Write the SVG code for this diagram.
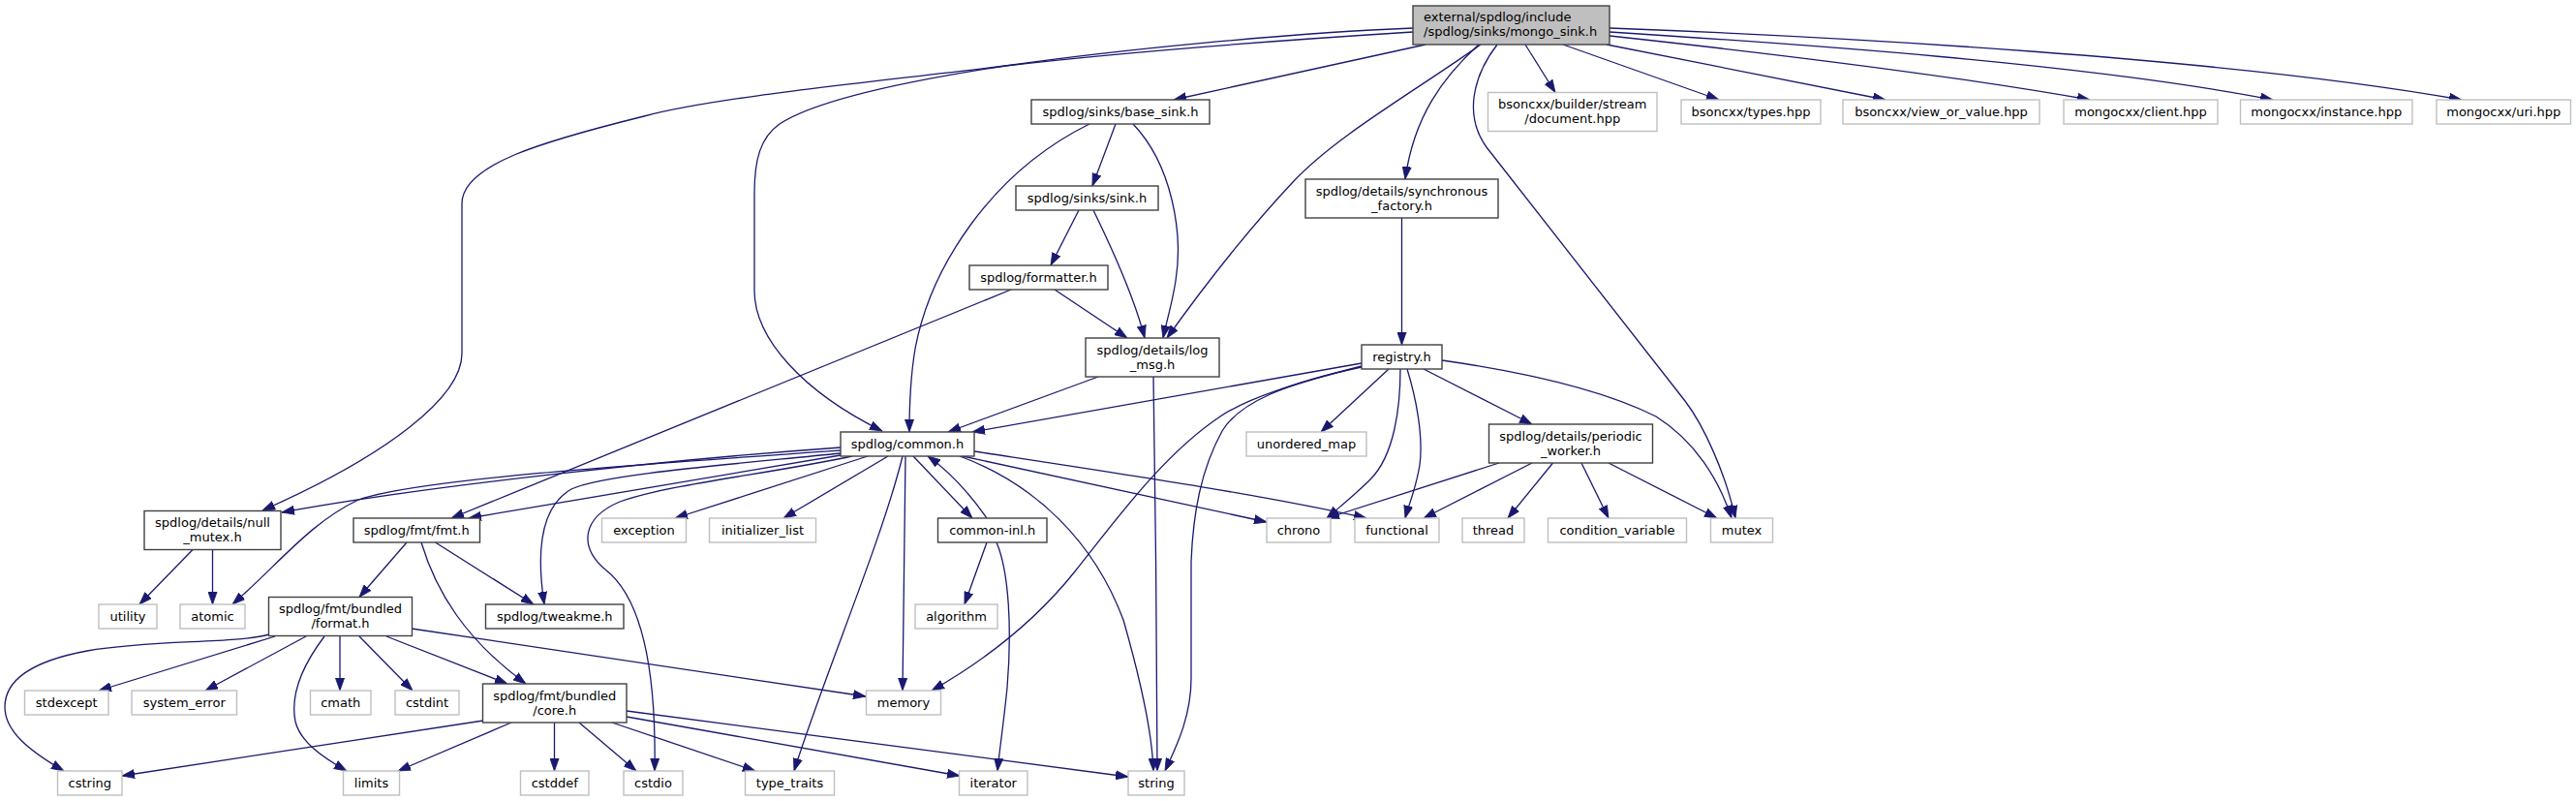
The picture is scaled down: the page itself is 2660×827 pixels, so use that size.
<svg xmlns="http://www.w3.org/2000/svg" width="2660" height="827" viewBox="0 0 2660 827">
<defs>
<style>
rect{stroke-width:1.4}
.n rect{fill:#fff;stroke:#404040}
.x rect{fill:#fff;stroke:#bfbfbf}
.m rect{fill:#bfbfbf;stroke:#404040}
text{font-family:"DejaVu Sans","Liberation Sans",sans-serif;font-size:13px;fill:#000;text-anchor:middle}
.m text{text-anchor:start}
#edges path{fill:none;stroke:#191970;stroke-width:1.3;marker-end:url(#a)}
</style>
<marker id="a" markerUnits="userSpaceOnUse" markerWidth="13" markerHeight="10" viewBox="0 0 13 10" refX="13" refY="5" orient="auto"><path d="M0,0.4 L13,5 L0,9.6 z" fill="#191970" stroke="#191970" stroke-width="0.8"/></marker>
</defs>
<rect width="2660" height="827" fill="#fff"/>
<g id="edges">
<path d="M1459,29 C1330,34 1150,52 1038,68 C920,86 840,105 805,128 C785,142 779,165 779,200 L779,300 C779,350 830,405 911,445"/>
<path d="M1459,33 C1300,43 1150,55 1038,68 C900,85 740,100 665,120 C560,146 477,170 477,210 L477,365 C477,410 400,470 271,527"/>
<path d="M1472,46 L1212,103"/>
<path d="M1529,46 C1460,95 1380,140 1335,188 C1290,236 1240,300 1205,349"/>
<path d="M1527,46 C1490,80 1460,120 1451,185"/>
<path d="M1546,46 C1520,80 1512,120 1535,152 L1740,414 C1760,440 1782,490 1792,535"/>
<path d="M1575,46 L1606,95.5"/>
<path d="M1614,46 L1775,103"/>
<path d="M1659,46 L1947,103"/>
<path d="M1662,37 C1800,52 2000,75 2158,103"/>
<path d="M1662,33 C1850,45 2150,65 2347,103"/>
<path d="M1662,29 C1900,38 2300,60 2542,103"/>
<path d="M1125,128 C1020,180 960,280 945,360 C940,390 939,420 939,446"/>
<path d="M1152,128 L1128,192"/>
<path d="M1170,128 C1210,170 1222,240 1214,290 C1210,315 1205,330 1201,349"/>
<path d="M1114,217 L1085,274"/>
<path d="M1129,217 C1150,260 1172,310 1182,349"/>
<path d="M1089,299 L1164,349"/>
<path d="M1044,299 L466,535"/>
<path d="M1134,389 L979,446"/>
<path d="M1191,389 C1193,500 1195,700 1195,796"/>
<path d="M868,462 C700,474 450,500 291,529"/>
<path d="M868,465 C650,480 430,495 370,516 C320,540 290,580 240,624"/>
<path d="M868,468 C750,480 620,490 590,505 C560,522 553,565 562,624"/>
<path d="M868,470 L484,535"/>
<path d="M880,471 C790,490 690,500 640,518 C600,535 598,565 625,588 C660,615 678,680 676,796"/>
<path d="M896,471 L697,535"/>
<path d="M917,471 L809,535"/>
<path d="M932,471 C910,560 850,700 820,796"/>
<path d="M935,471 L932,713"/>
<path d="M943,471 L1004,535"/>
<path d="M1019,535 C1005,515 985,490 958,471"/>
<path d="M991,471 C1070,500 1130,560 1160,640 C1180,710 1190,760 1191,796"/>
<path d="M994,471 L1308,539"/>
<path d="M1006,466 C1150,488 1300,510 1411,535"/>
<path d="M499,744 L126,801"/>
<path d="M528,746 L411,796"/>
<path d="M572.5,746 L572.5,796"/>
<path d="M598,746 L657,796"/>
<path d="M632,746 L780,796"/>
<path d="M647,740 L991,801"/>
<path d="M647,734 L1165,802"/>
<path d="M278,655 C240,665 160,660 90,672 C20,685 5,710 5,730 C5,755 30,775 66,796"/>
<path d="M284,657 L102,713"/>
<path d="M316,657 L212,713"/>
<path d="M335,657 C310,690 300,720 305,745 C310,765 330,780 358,796"/>
<path d="M351,657 L351,713"/>
<path d="M371,657 L426,713"/>
<path d="M399,657 L524,706"/>
<path d="M425,649 L894,719"/>
<path d="M420,560 L371,616.5"/>
<path d="M435,560 C450,610 480,660 543,706"/>
<path d="M449.5,560 L551,624"/>
<path d="M199,567.5 L144,624"/>
<path d="M219.5,567.5 L219.5,624"/>
<path d="M1019,560 L996,624"/>
<path d="M1029,560 C1042,590 1045,650 1040,710 C1036,750 1032,775 1030,796"/>
<path d="M1447.5,225 L1447.5,356"/>
<path d="M1406,375 L1004,446"/>
<path d="M1406,378 C1340,395 1290,410 1260,430 C1200,470 1150,540 1110,590 C1070,640 1020,680 962,713"/>
<path d="M1406,379 C1330,395 1280,415 1262,445 C1240,485 1232,530 1230,580 L1230,700 C1230,740 1215,770 1203,796"/>
<path d="M1434,381 L1364,446"/>
<path d="M1446,381 C1446,420 1440,470 1415,495 C1400,510 1385,522 1370,535"/>
<path d="M1453,381 C1462,410 1470,450 1466,480 C1462,505 1455,520 1451,535"/>
<path d="M1470,381 L1582,438"/>
<path d="M1489,372 C1580,385 1660,405 1710,430 C1750,455 1775,495 1788,535"/>
<path d="M1548,478 L1370,535"/>
<path d="M1582,478 L1470,535"/>
<path d="M1603.5,478 L1557,535"/>
<path d="M1633,478 L1661,535"/>
<path d="M1661,478 L1773,535"/>
</g>
<g id="main" class="m"><rect x="1459" y="6" width="203" height="40"/><text x="1470" y="22">external/spdlog/include</text><text x="1470" y="37">/spdlog/sinks/mongo_sink.h</text></g>
<g id="base_sink" class="n"><rect x="1065" y="103" width="184" height="25"/><text x="1157" y="120">spdlog/sinks/base_sink.h</text></g>
<g id="sink" class="n"><rect x="1049" y="192" width="147" height="25"/><text x="1122.5" y="209">spdlog/sinks/sink.h</text></g>
<g id="formatter" class="n"><rect x="1001" y="274" width="143" height="25"/><text x="1072.5" y="291">spdlog/formatter.h</text></g>
<g id="log_msg" class="n"><rect x="1121" y="349" width="138" height="40"/><text x="1190" y="365.5">spdlog/details/log</text><text x="1190" y="380.5">_msg.h</text></g>
<g id="sync_factory" class="n"><rect x="1348" y="185" width="199" height="40"/><text x="1447.5" y="201.5">spdlog/details/synchronous</text><text x="1447.5" y="216.5">_factory.h</text></g>
<g id="registry" class="n"><rect x="1406" y="356" width="83" height="25"/><text x="1447.5" y="373">registry.h</text></g>
<g id="document" class="x"><rect x="1536.5" y="95.5" width="174.5" height="40"/><text x="1623.75" y="112">bsoncxx/builder/stream</text><text x="1623.75" y="127">/document.hpp</text></g>
<g id="types" class="x"><rect x="1736" y="103" width="144" height="25"/><text x="1808" y="120">bsoncxx/types.hpp</text></g>
<g id="view_or_value" class="x"><rect x="1903" y="103" width="203" height="25"/><text x="2004.5" y="120">bsoncxx/view_or_value.hpp</text></g>
<g id="client" class="x"><rect x="2131" y="103" width="159" height="25"/><text x="2210.5" y="120">mongocxx/client.hpp</text></g>
<g id="instance" class="x"><rect x="2313.5" y="103" width="177.5" height="25"/><text x="2402.25" y="120">mongocxx/instance.hpp</text></g>
<g id="uri" class="x"><rect x="2516" y="103" width="138.5" height="25"/><text x="2585.25" y="120">mongocxx/uri.hpp</text></g>
<g id="common" class="n"><rect x="868" y="446" width="138" height="25"/><text x="937" y="463">spdlog/common.h</text></g>
<g id="unordered_map" class="x"><rect x="1287" y="446" width="124" height="25"/><text x="1349" y="463">unordered_map</text></g>
<g id="periodic_worker" class="n"><rect x="1537.5" y="438" width="169" height="40"/><text x="1622" y="454.5">spdlog/details/periodic</text><text x="1622" y="469.5">_worker.h</text></g>
<g id="null_mutex" class="n"><rect x="149" y="527.5" width="141" height="40"/><text x="219.5" y="544">spdlog/details/null</text><text x="219.5" y="559">_mutex.h</text></g>
<g id="fmt" class="n"><rect x="365" y="535" width="130.5" height="25"/><text x="430.25" y="552">spdlog/fmt/fmt.h</text></g>
<g id="exception" class="x"><rect x="621.5" y="535" width="87" height="25"/><text x="665" y="552">exception</text></g>
<g id="initializer_list" class="x"><rect x="732.5" y="535" width="110" height="25"/><text x="787.5" y="552">initializer_list</text></g>
<g id="common_inl" class="n"><rect x="968.5" y="535" width="112.5" height="25"/><text x="1024.75" y="552">common-inl.h</text></g>
<g id="chrono" class="x"><rect x="1308" y="535" width="66" height="25"/><text x="1341" y="552">chrono</text></g>
<g id="functional" class="x"><rect x="1399" y="535" width="87" height="25"/><text x="1442.5" y="552">functional</text></g>
<g id="thread" class="x"><rect x="1510" y="535" width="64" height="25"/><text x="1542" y="552">thread</text></g>
<g id="condition_variable" class="x"><rect x="1598.5" y="535" width="143" height="25"/><text x="1670" y="552">condition_variable</text></g>
<g id="mutex" class="x"><rect x="1766.5" y="535" width="64" height="25"/><text x="1798.5" y="552">mutex</text></g>
<g id="utility" class="x"><rect x="102" y="624" width="60" height="25"/><text x="132" y="641">utility</text></g>
<g id="atomic" class="x"><rect x="186" y="624" width="67" height="25"/><text x="219.5" y="641">atomic</text></g>
<g id="format" class="n"><rect x="277.5" y="616.5" width="148" height="40"/><text x="351.5" y="633">spdlog/fmt/bundled</text><text x="351.5" y="648">/format.h</text></g>
<g id="tweakme" class="n"><rect x="501.5" y="624" width="142.5" height="25"/><text x="572.75" y="641">spdlog/tweakme.h</text></g>
<g id="algorithm" class="x"><rect x="945" y="624" width="85" height="25"/><text x="987.5" y="641">algorithm</text></g>
<g id="stdexcept" class="x"><rect x="25.5" y="713" width="86.5" height="25"/><text x="68.75" y="730">stdexcept</text></g>
<g id="system_error" class="x"><rect x="136" y="713" width="108.5" height="25"/><text x="190.25" y="730">system_error</text></g>
<g id="cmath" class="x"><rect x="320.5" y="713" width="62.5" height="25"/><text x="351.75" y="730">cmath</text></g>
<g id="cstdint" class="x"><rect x="408" y="713" width="66" height="25"/><text x="441" y="730">cstdint</text></g>
<g id="core" class="n"><rect x="498.5" y="706" width="148.5" height="40"/><text x="572.75" y="722.5">spdlog/fmt/bundled</text><text x="572.75" y="737.5">/core.h</text></g>
<g id="memory" class="x"><rect x="894.5" y="713" width="77" height="25"/><text x="933" y="730">memory</text></g>
<g id="cstring" class="x"><rect x="59.5" y="796" width="66.5" height="25"/><text x="92.75" y="813">cstring</text></g>
<g id="limits" class="x"><rect x="354.5" y="796" width="58" height="25"/><text x="383.5" y="813">limits</text></g>
<g id="cstddef" class="x"><rect x="537.5" y="796" width="70.5" height="25"/><text x="572.75" y="813">cstddef</text></g>
<g id="cstdio" class="x"><rect x="644" y="796" width="61" height="25"/><text x="674.5" y="813">cstdio</text></g>
<g id="type_traits" class="x"><rect x="769.5" y="796" width="92" height="25"/><text x="815.5" y="813">type_traits</text></g>
<g id="iterator" class="x"><rect x="990.5" y="796" width="70.5" height="25"/><text x="1025.75" y="813">iterator</text></g>
<g id="string" class="x"><rect x="1165" y="796" width="58" height="25"/><text x="1194" y="813">string</text></g>
</svg>
